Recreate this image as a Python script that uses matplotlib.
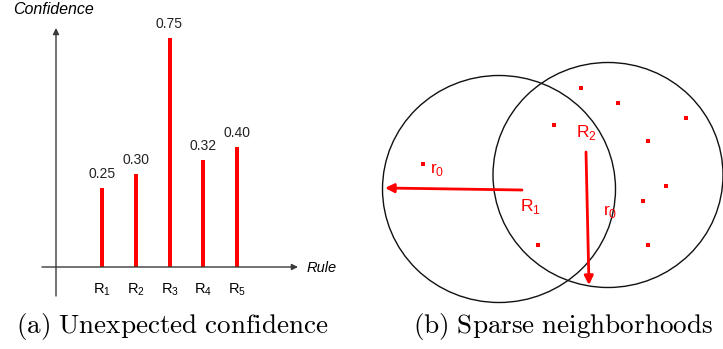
import matplotlib
matplotlib.use('Agg')
import matplotlib.pyplot as plt
from matplotlib.patches import Ellipse

plt.rcParams['font.family'] = ['Liberation Sans', 'DejaVu Sans']
plt.rcParams['mathtext.fontset'] = 'custom'
plt.rcParams['mathtext.rm'] = 'Liberation Sans'

# (a) confidence of the rules
RULES = ['1', '2', '3', '4', '5']
CONF_LABELS = ['0.25', '0.30', '0.75', '0.32', '0.40']
# bar heights as drawn in the figure (not exactly to scale with the labels)
BAR_HEIGHT = [0.26, 0.305, 0.75, 0.35, 0.395]

# (b) points in the neighbourhoods (panel pixel coords)
DOTS_X = [221, 258, 326, 194, 288, 63, 306, 283, 178, 288]
DOTS_Y = [48, 63, 78, 85, 101, 124, 146, 161, 205, 205]
CIRCLE_X = [139, 248]
CIRCLE_Y = [149, 135]
CIRCLE_W = [233, 230]
CIRCLE_H = [227, 225]

W, H = 723, 349
RED = '#ff0000'
AXC = '#3a3a3a'

fig = plt.figure(figsize=(W / 100, H / 100), dpi=100)

# ---- (a) bar chart, axes placed in figure pixels
PX0, PX1, PY0, PY1 = 30, 330, 20, 310      # left, right, top, bottom
X_R1, DX = 102, 33.75                      # pixel of R1 and spacing
Y_BASE, SY = 267, 305                      # baseline pixel, pixels per unit
ax = fig.add_axes([PX0 / W, 1 - PY1 / H, (PX1 - PX0) / W, (PY1 - PY0) / H])
ax.set_xlim((PX0 - X_R1) / DX + 1, (PX1 - X_R1) / DX + 1)
ax.set_ylim((Y_BASE - PY1) / SY, (Y_BASE - PY0) / SY)
ax.axis('off')

xs = list(range(1, len(RULES) + 1))
ax.bar(xs, BAR_HEIGHT, width=4 / DX, color=RED, zorder=3)
for x, c, lab in zip(xs, BAR_HEIGHT, CONF_LABELS):
    ax.text(x, c + 14 / SY, lab, ha='center', va='center', fontsize=10, color='#222222')
for x, r in zip(xs, RULES):
    ax.text(x, -23 / SY, r'R$_{\mathregular{' + r + '}}$', ha='center', va='center',
            fontsize=10.5, color='black')

def px_x(p):
    return (p - X_R1) / DX + 1

def px_y(p):
    return (Y_BASE - p) / SY

arrow_kw = dict(arrowstyle='-|>', color=AXC, lw=1, mutation_scale=9, shrinkA=0, shrinkB=0)
ax.annotate('', xy=(px_x(56), px_y(28)), xytext=(px_x(56), px_y(296)), arrowprops=arrow_kw)
ax.annotate('', xy=(px_x(298), px_y(267)), xytext=(px_x(42), px_y(267)), arrowprops=arrow_kw)
ax.text(px_x(307), px_y(268), 'Rule', style='italic', fontsize=10.5, ha='left', va='center',
        clip_on=False)
fig.text(13 / W, 1 - 9 / H, 'Confidence', style='italic', fontsize=11.5, ha='left', va='center')

# ---- (b) neighbourhoods, axes in panel pixels
BX0, BY0, BW, BH = 360, 40, 363, 270
bx = fig.add_axes([BX0 / W, 1 - (BY0 + BH) / H, BW / W, BH / H])
bx.set_xlim(0, BW)
bx.set_ylim(BH, 0)
bx.axis('off')

for cx, cy, cw, ch in zip(CIRCLE_X, CIRCLE_Y, CIRCLE_W, CIRCLE_H):
    bx.add_patch(Ellipse((cx, cy), cw, ch, fill=False, ec='#111111', lw=1.0, clip_on=False))
bx.scatter(DOTS_X, DOTS_Y, marker='s', s=5, color=RED, lw=0, zorder=3)

red_kw = dict(arrowstyle='-|>', color=RED, lw=2, mutation_scale=13, shrinkA=0, shrinkB=0)
bx.annotate('', xy=(25, 148), xytext=(162, 150), arrowprops=red_kw)
bx.annotate('', xy=(229, 245), xytext=(226, 112), arrowprops=red_kw)

bx.text(160, 167, r'R$_{\mathregular{1}}$', color=RED, fontsize=12.5, ha='left', va='center')
bx.text(216, 93, r'R$_{\mathregular{2}}$', color=RED, fontsize=12.5, ha='left', va='center')
bx.text(70, 130, r'r$_{\mathregular{0}}$', color=RED, fontsize=12.5, ha='left', va='center')
bx.text(243, 172, r'r$_{\mathregular{0}}$', color=RED, fontsize=12.5, ha='left', va='center')

# ---- captions
fig.text(172 / W, 1 - 327 / H, r'$\mathrm{(a)\ Unexpected\ confidence}$', math_fontfamily='cm',
         fontsize=19.5, ha='center', va='center')
fig.text(563 / W, 1 - 327 / H, r'$\mathrm{(b)\ Sparse\ neighborhoods}$', math_fontfamily='cm',
         fontsize=19.5, ha='center', va='center')

fig.savefig('out.png', dpi=100)
